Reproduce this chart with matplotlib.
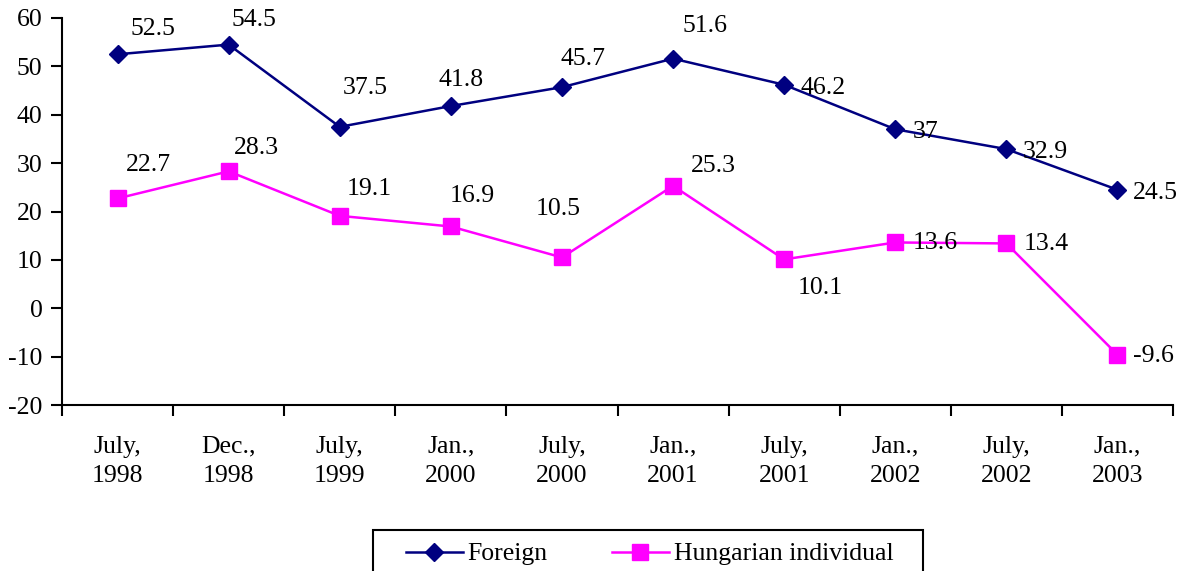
import matplotlib
matplotlib.use("Agg")
import matplotlib.pyplot as plt
from matplotlib.patches import Rectangle

categories = ["July,\n1998", "Dec.,\n1998", "July,\n1999", "Jan.,\n2000", "July,\n2000",
              "Jan.,\n2001", "July,\n2001", "Jan.,\n2002", "July,\n2002", "Jan.,\n2003"]
foreign = [52.5, 54.5, 37.5, 41.8, 45.7, 51.6, 46.2, 37, 32.9, 24.5]
foreign_labels = ["52.5", "54.5", "37.5", "41.8", "45.7", "51.6", "46.2", "37", "32.9", "24.5"]
hungarian = [22.7, 28.3, 19.1, 16.9, 10.5, 25.3, 10.1, 13.6, 13.4, -9.6]
hungarian_labels = ["22.7", "28.3", "19.1", "16.9", "10.5", "25.3", "10.1", "13.6", "13.4", "-9.6"]
yticks = [-20, -10, 0, 10, 20, 30, 40, 50, 60]

# label offsets (pixels) – styling
foreign_off = [(35, 26), (25, 26), (26, 40), (10, 27), (21, 29), (32, 34), (39, -2), (30, -2), (39, -2), (38, -2)]
hung_off = [(31, 34), (28, 24), (29, 28), (21, 31), (-4, 49), (40, 21), (36, -28), (40, 0), (40, 0), (36, 0)]

plt.rcParams['font.family'] = ['Liberation Serif', 'DejaVu Serif']
FS = 18.5

fig = plt.figure(figsize=(11.87, 5.71), dpi=100)
ax = fig.add_axes([62 / 1187, 1 - 405 / 571, (1173 - 62) / 1187, (405 - 18) / 571])

x = list(range(len(categories)))
navy = "#000080"
pink = "#FF00FF"
l1, = ax.plot(x, foreign, color=navy, lw=1.8, marker="D", ms=9, mfc=navy, mec=navy, label="Foreign")
l2, = ax.plot(x, hungarian, color=pink, lw=1.8, marker="s", ms=11.5, mfc=pink, mec=pink,
              label="Hungarian individual")

for xi, v, t, (dx, dy) in zip(x, foreign, foreign_labels, foreign_off):
    ax.annotate(t, (xi, v), xytext=(dx, dy - 1), textcoords="offset pixels",
                ha="center", va="center", fontsize=FS, color="black")
for xi, v, t, (dx, dy) in zip(x, hungarian, hungarian_labels, hung_off):
    ax.annotate(t, (xi, v), xytext=(dx, dy - 1), textcoords="offset pixels",
                ha="center", va="center", fontsize=FS, color="black")

ax.set_xlim(-0.5, len(categories) - 0.5)
ax.set_ylim(-20, 60)
ax.set_yticks(yticks)
ax.set_yticklabels([str(v) for v in yticks], fontsize=FS)
ax.set_xticks([i + 0.5 for i in range(-1, len(categories))])
ax.set_xticklabels([])
ax.set_xticks(x, minor=True)
ax.set_xticklabels(categories, minor=True, fontsize=FS, linespacing=1.42)
ax.tick_params(axis="x", which="minor", length=0, pad=22)
ax.tick_params(axis="x", which="major", length=8, width=1.5, direction="out")
ax.tick_params(axis="y", length=8, width=1.5, direction="out", pad=6)
for s in ["top", "right"]:
    ax.spines[s].set_visible(False)
for s in ["left", "bottom"]:
    ax.spines[s].set_linewidth(1.5)
ax.set_facecolor("white")

leg = fig.legend(handles=[l1, l2], loc="center left", bbox_to_anchor=(406 / 1187, 1 - 554 / 571),
                 ncol=2, frameon=False, fontsize=FS, handlelength=2.2, handletextpad=0.2,
                 columnspacing=2.5, borderpad=0, borderaxespad=0)
fig.patches.append(Rectangle((373 / 1187, -0.05), (923 - 373) / 1187, 0.05 + 1 - 530 / 571,
                             transform=fig.transFigure, fill=False, edgecolor="black",
                             linewidth=1.5))

fig.savefig("out.png", dpi=100)
